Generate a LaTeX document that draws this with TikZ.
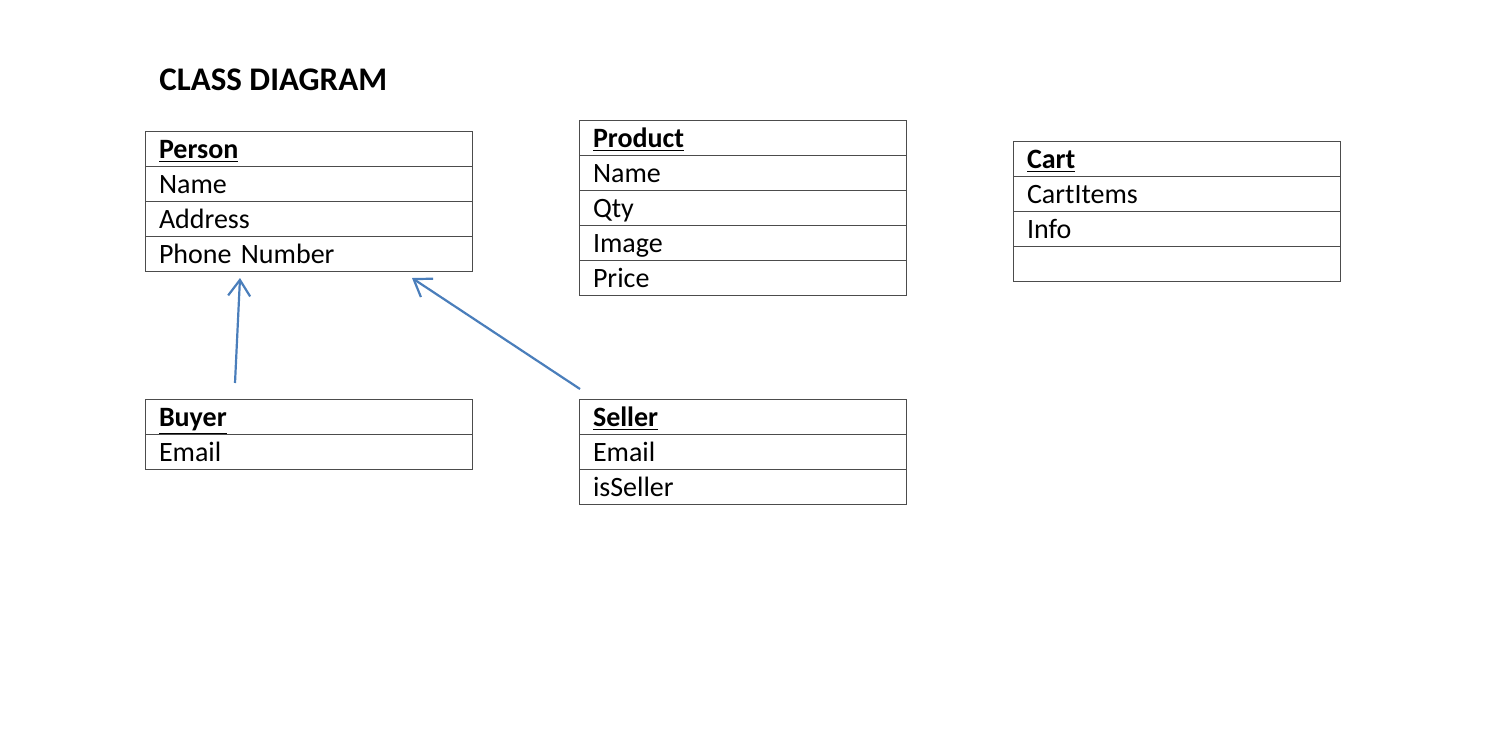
\documentclass[tikz,border=0pt]{standalone}
\usepackage{fontspec}
\setmainfont{Carlito}
\usetikzlibrary{positioning,arrows.meta}
\definecolor{linkblue}{RGB}{74,126,187}

\begin{document}
\begin{tikzpicture}[x=0.5pt,y=-0.5pt,
    row/.style={draw=black!70, line width=0.5pt, minimum height=17.5pt,
        text width=149.5pt, text height=11.5pt, text depth=2pt,
        inner xsep=7pt, inner ysep=0pt, outer sep=0pt, align=left,
        font=\fontsize{14}{16}\selectfont},
    head/.style={row, font=\fontsize{14}{16}\selectfont\bfseries},
    inherit/.style={draw=linkblue, line width=1.1pt,
        -{Straight Barb[length=8pt,width=11pt]}}]
    \useasboundingbox (0,0) rectangle (1488,745);

    % Title
    \node[anchor=base west, inner sep=0pt, font=\fontsize{16.5}{19}\selectfont\bfseries]
        (title) at (159,90) {CLASS DIAGRAM};

    % Person
    \node[head, anchor=north west] (person) at (145,131) {\underline{Person}};
    \node[row, below=0pt of person] (person-name) {Name};
    \node[row, below=0pt of person-name] (person-address) {Address};
    \node[row, below=0pt of person-address] (person-phone) {Phone Number};

    % Product
    \node[head, anchor=north west] (product) at (579,120) {\underline{Product}};
    \node[row, below=0pt of product] (product-name) {Name};
    \node[row, below=0pt of product-name] (product-qty) {Qty};
    \node[row, below=0pt of product-qty] (product-image) {Image};
    \node[row, below=0pt of product-image] (product-price) {Price};

    % Cart
    \node[head, anchor=north west] (cart) at (1013,141) {\underline{Cart}};
    \node[row, below=0pt of cart] (cart-items) {CartItems};
    \node[row, below=0pt of cart-items] (cart-info) {Info};
    \node[row, below=0pt of cart-info] (cart-empty) {};

    % Buyer
    \node[head, anchor=north west] (buyer) at (145,399) {\underline{Buyer}};
    \node[row, below=0pt of buyer] (buyer-email) {Email};

    % Seller
    \node[head, anchor=north west] (seller) at (579,399) {\underline{Seller}};
    \node[row, below=0pt of seller] (seller-email) {Email};
    \node[row, below=0pt of seller-email] (seller-flag) {isSeller};

    % Inheritance
    \draw[inherit] ([xshift=45pt,yshift=8pt]buyer.north west)
        -- ([xshift=47.5pt,yshift=-3.5pt]person-phone.south west);
    \draw[inherit] ([xshift=0.5pt,yshift=5pt]seller.north west)
        -- ([xshift=-30pt,yshift=-3.5pt]person-phone.south east);
\end{tikzpicture}
\end{document}
